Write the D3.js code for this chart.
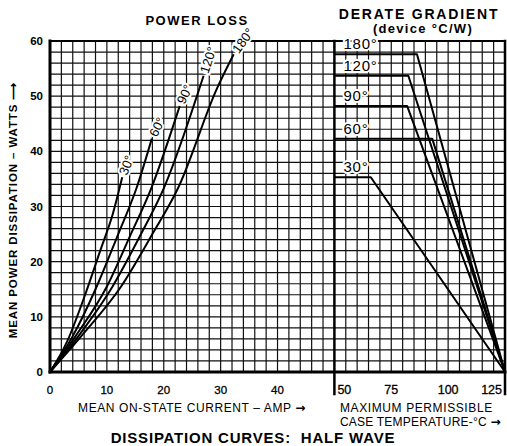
<!DOCTYPE html>
<html>
<head>
<meta charset="utf-8">
<script src="https://cdn.jsdelivr.net/npm/d3@7"></script>
<style>
  body { margin: 0; background: #fff; }
  text { font-family: "Liberation Sans", Arial, sans-serif; fill: #000; }
</style>
</head>
<body>
<svg id="chart" width="507" height="446"></svg>
<script>
// conduction angles, in the order drawn
const angles = ["30°", "60°", "90°", "120°", "180°"];

// power loss curves: [mean current A, mean power W]
const loss30 = [[0, 0], [3, 5.5], [6, 13.5], [9, 22.5], [11, 28.5], [12.7, 35.3]];
const loss60 = [[0, 0], [4, 6.5], [8, 15], [12, 25], [15.2, 33.3], [17.9, 42.3]];
const loss90 = [[0, 0], [4.5, 6.5], [10, 15.5], [14, 24.5], [17.8, 33.3], [22.8, 48.2]];
const loss120 = [[0, 0], [5, 6.5], [11, 15.5], [16, 25], [20, 33.3], [27, 53.7]];
const loss180 = [[0, 0], [5.5, 6.5], [12.5, 15.5], [18, 25], [22.5, 33.3], [29.4, 51.5], [32.3, 57.6]];
const lossCurves = [loss30, loss60, loss90, loss120, loss180];

// derating: max dissipation (plateau) and knee temperature, all go to 0 W at 125 °C
const plateauW = [35.3, 42.3, 48.2, 53.7, 57.6];
const kneeC = [66, 93, 82, 82.5, 86.3];
const tjMax = 125;

const currentTicks = [0, 10, 20, 30, 40];
const tempTicks = [50, 75, 100, 125];
const powerTicks = [0, 10, 20, 30, 40, 50, 60];

const svg = d3.select("#chart");

const x0 = 50, xSep = 334.4, x1 = 505;
const yTop = 41, yBot = 372;

const xI = d3.scaleLinear().domain([0, 50]).range([x0, xSep]);
const xT = d3.scaleLinear().domain([50, 125]).range([xSep, x1]);
const y = d3.scaleLinear().domain([0, 60]).range([yBot, yTop]);

// grid
const grid = svg.append("g").attr("stroke", "#111").attr("stroke-width", 1.2);
d3.range(2, 50, 2).forEach(v => {
    grid.append("line").attr("x1", xI(v)).attr("x2", xI(v)).attr("y1", yTop).attr("y2", yBot);
});
d3.range(55, 125, 5).forEach(v => {
    grid.append("line").attr("x1", xT(v)).attr("x2", xT(v)).attr("y1", yTop).attr("y2", yBot);
});
d3.range(2, 60, 2).forEach(v => {
    grid.append("line").attr("x1", x0).attr("x2", x1).attr("y1", y(v)).attr("y2", y(v));
});

// frame
const frame = svg.append("g").attr("stroke", "#000").attr("stroke-linecap", "square");
frame.append("line").attr("x1", x0).attr("x2", x1).attr("y1", yTop).attr("y2", yTop).attr("stroke-width", 2.2);
frame.append("line").attr("x1", x0).attr("x2", x1).attr("y1", yBot).attr("y2", yBot).attr("stroke-width", 3);
frame.append("line").attr("x1", x0).attr("x2", x0).attr("y1", yTop).attr("y2", yBot).attr("stroke-width", 3);
frame.append("line").attr("x1", xSep).attr("x2", xSep).attr("y1", yTop).attr("y2", 394).attr("stroke-width", 2.5);
frame.append("line").attr("x1", x1).attr("x2", x1).attr("y1", yTop).attr("y2", 394).attr("stroke-width", 2.5);

// power loss curves
const line = d3.line()
    .x(d => xI(d[0]))
    .y(d => y(d[1]))
    .curve(d3.curveMonotoneX);

svg.append("g")
    .selectAll("path")
    .data(lossCurves)
    .join("path")
    .attr("d", line)
    .attr("fill", "none")
    .attr("stroke", "#000")
    .attr("stroke-width", 2);

// derate lines
const derate = d3.line().x(d => xT(d[0])).y(d => y(d[1]));
svg.append("g")
    .selectAll("path")
    .data(plateauW.map((w, i) => [[50, w], [kneeC[i], w], [tjMax, 0]]))
    .join("path")
    .attr("d", derate)
    .attr("fill", "none")
    .attr("stroke", "#000")
    .attr("stroke-width", 2)
    .attr("stroke-linejoin", "round");

// curve labels, rotated along the curve ends
const labelTilt = [-69, -63, -65, -72, -54];
svg.append("g")
    .selectAll("text")
    .data(lossCurves)
    .join("text")
    .attr("transform", (d, i) => {
        const e = d[d.length - 1];
        return "translate(" + xI(e[0]) + "," + y(e[1]) + ") rotate(" + labelTilt[i] + ") translate(3,4)";
    })
    .attr("font-size", 13)
    .attr("stroke", "#fff")
    .attr("stroke-width", 4)
    .attr("paint-order", "stroke")
    .text((d, i) => angles[i]);

svg.append("g")
    .selectAll("text")
    .data(plateauW)
    .join("text")
    .attr("x", xSep + 9)
    .attr("y", d => y(d) - 5)
    .attr("font-size", 15)
    .attr("letter-spacing", 0.8)
    .attr("stroke", "#fff")
    .attr("stroke-width", 4)
    .attr("paint-order", "stroke")
    .text((d, i) => angles[i]);

// tick labels
svg.append("g")
    .selectAll("text")
    .data(powerTicks)
    .join("text")
    .attr("x", 43)
    .attr("y", d => y(d) + 4)
    .attr("text-anchor", "end")
    .attr("font-size", 11.5)
    .attr("font-weight", "bold")
    .text(d => d);

svg.append("g")
    .selectAll("text")
    .data(currentTicks)
    .join("text")
    .attr("x", d => xI(d))
    .attr("y", 394)
    .attr("text-anchor", "middle")
    .attr("font-size", 11.5)
    .attr("stroke", "#000")
    .attr("stroke-width", 0.3)
    .text(d => d);

svg.append("g")
    .selectAll("text")
    .data(tempTicks)
    .join("text")
    .attr("x", d => d === 50 ? xT(d) + 3 : (d === 125 ? xT(d) - 3 : xT(d)))
    .attr("y", 394)
    .attr("text-anchor", d => d === 50 ? "start" : (d === 125 ? "end" : "middle"))
    .attr("font-size", 12.5)
    .attr("stroke", "#000")
    .attr("stroke-width", 0.3)
    .text(d => d);

// titles and axis captions
svg.append("text").attr("x", 197).attr("y", 25).attr("text-anchor", "middle")
    .attr("font-size", 13).attr("font-weight", "bold").attr("letter-spacing", 1.5)
    .text("POWER LOSS");
svg.append("text").attr("x", 419).attr("y", 19).attr("text-anchor", "middle")
    .attr("font-size", 14).attr("font-weight", "bold").attr("letter-spacing", 1.8)
    .text("DERATE GRADIENT");
svg.append("text").attr("x", 423).attr("y", 33).attr("text-anchor", "middle")
    .attr("font-size", 13).attr("font-weight", "bold").attr("letter-spacing", 1.3)
    .text("(device °C/W)");

svg.append("text").attr("transform", "translate(17,210) rotate(-90)").attr("text-anchor", "middle")
    .attr("font-size", 11.5).attr("font-weight", "bold").attr("letter-spacing", 0.9)
    .text("MEAN POWER DISSIPATION – WATTS ⟶");

const arrowFont = "DejaVu Sans";
const cap1 = svg.append("text").attr("x", 192).attr("y", 412).attr("text-anchor", "middle")
    .attr("font-size", 12).attr("letter-spacing", 0.6);
cap1.append("tspan").text("MEAN ON-STATE CURRENT – AMP ");
cap1.append("tspan").style("font-family", arrowFont).attr("font-weight", "bold").text("→");

svg.append("text").attr("x", 340).attr("y", 412)
    .attr("font-size", 12).attr("letter-spacing", 0.6)
    .text("MAXIMUM PERMISSIBLE");
const cap2 = svg.append("text").attr("x", 340).attr("y", 426)
    .attr("font-size", 12).attr("letter-spacing", 0.2);
cap2.append("tspan").text("CASE TEMPERATURE-°C ");
cap2.append("tspan").style("font-family", arrowFont).attr("font-weight", "bold").text("→");

svg.append("text").attr("x", 253).attr("y", 443).attr("text-anchor", "middle")
    .attr("font-size", 15).attr("font-weight", "bold").attr("letter-spacing", 0.8)
    .style("white-space", "pre")
    .text("DISSIPATION CURVES:  HALF WAVE");
</script>
</body>
</html>
